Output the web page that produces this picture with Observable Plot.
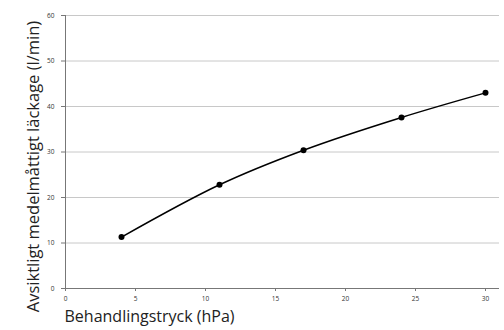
<!DOCTYPE html>
<html>
<head>
<meta charset="utf-8">
<script src="https://cdn.jsdelivr.net/npm/d3@7"></script>
<script src="https://cdn.jsdelivr.net/npm/@observablehq/plot@0.6"></script>
<style>
  html, body { margin: 0; padding: 0; background: #fff; }
  #chart { width: 504px; height: 330px; }
</style>
</head>
<body>
<div id="chart"></div>
<script>
const pressure = [4, 11, 17, 24, 30];
const leakage = [11.3, 22.8, 30.4, 37.6, 43.0];
const xTicks = [0, 5, 10, 15, 20, 25, 30];
const yTicks = [0, 10, 20, 30, 40, 50, 60];
const xLabel = "Behandlingstryck (hPa)";
const yLabel = "Avsiktligt medelmåttigt läckage (l/min)";

const data = pressure.map((p, i) => ({p, v: leakage[i]}));

const chart = Plot.plot({
  width: 504,
  height: 330,
  marginLeft: 65,
  marginRight: 5,
  marginTop: 15,
  marginBottom: 42,
  style: {fontFamily: "'Open Sans', sans-serif", background: "#fff"},
  x: {domain: [0, 31]},
  y: {domain: [0, 60]},
  marks: [
    Plot.gridY(yTicks, {stroke: "#c8c8c8", strokeOpacity: 1, strokeWidth: 1}),
    Plot.axisX(xTicks, {tickSize: 3, tickPadding: 5, fontSize: 6.5, label: null, stroke: "#777", fill: "#333"}),
    Plot.axisY(yTicks, {tickSize: 4, tickPadding: 7, fontSize: 6.5, label: null, stroke: "#777", fill: "#333"}),
    Plot.ruleX([0], {stroke: "#777"}),
    Plot.ruleY([0], {stroke: "#777"}),
    Plot.line(data, {x: "p", y: "v", curve: "catmull-rom", stroke: "#000", strokeWidth: 1.5}),
    Plot.dot(data, {x: "p", y: "v", r: 3, fill: "#000", stroke: "none"}),
    Plot.text([xLabel], {frameAnchor: "bottom-left", textAnchor: "start", dx: -1, dy: 33, fontSize: 16, fill: "#222"}),
    Plot.text([yLabel], {frameAnchor: "left", rotate: -90, textAnchor: "middle", dx: -32, dy: 14.5, fontSize: 16.5, fill: "#222"})
  ]
});
document.getElementById("chart").appendChild(chart);
</script>
</body>
</html>
